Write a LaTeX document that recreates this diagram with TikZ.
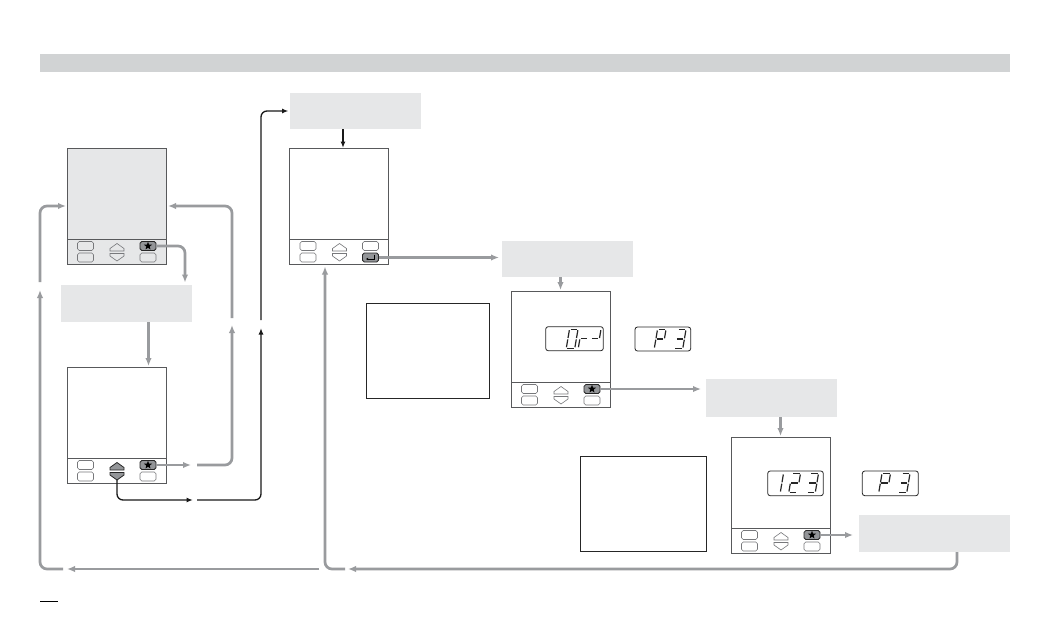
\documentclass[tikz,border=0pt]{standalone}
\usetikzlibrary{arrows.meta,shapes.geometric}
\definecolor{hdr}{HTML}{D1D3D4}
\definecolor{boxgray}{HTML}{E6E7E8}
\definecolor{agray}{HTML}{999B9E}
\definecolor{pborder}{HTML}{58595B}
\definecolor{bborder}{HTML}{77787B}
\definecolor{hotfill}{HTML}{939598}
\tikzset{
  panel/.style={draw=pborder, line width=0.8pt, minimum width=99pt, minimum height=116pt, anchor=north west, inner sep=0pt, outer sep=0pt},
  pline/.style={draw=pborder, line width=0.8pt},
  btn/.style={draw=bborder, line width=0.6pt, rounded corners=1.8pt, minimum width=16pt, minimum height=9pt, anchor=north west, inner sep=0pt, outer sep=0pt},
  hot/.style={fill=hotfill, draw=black!85, line width=0.8pt},
  udplain/.style={draw=bborder, line width=0.6pt},
  udhot/.style={draw=black!85, fill=hotfill, line width=0.8pt},
  starmark/.style={star, star points=5, star point ratio=2.4, fill=black, inner sep=0pt, minimum size=8.5pt},
  gbox/.style={fill=boxgray, anchor=north west, inner sep=0pt, outer sep=0pt},
  wbox/.style={draw=black!85, line width=0.9pt, anchor=north west, inner sep=0pt, outer sep=0pt},
  lcd/.style={draw=black!85, line width=0.8pt, rounded corners=2.5pt, anchor=north west, inner sep=0pt, outer sep=0pt},
  seg/.style={draw=black!85, line width=1.2pt},
  garrow/.style={draw=agray, line width=2.7pt, rounded corners=7pt, -{Latex[length=8pt,width=6.5pt]}},
  barrow/.style={draw=black!90, line width=1.3pt, rounded corners=6pt, -{Latex[length=6.5pt,width=5pt]}},
}
% seven-segment digit: x, y (top-left), list of segments
\newcommand\sdigit[3]{%
  \begin{scope}[shift={(#1,#2)},xslant=0.17]
    \coordinate (sa1) at (1,0);   \coordinate (sa2) at (7.5,0);
    \coordinate (sb1) at (8.5,1);   \coordinate (sb2) at (8.5,8.8);
    \coordinate (sc1) at (8.5,10.2);\coordinate (sc2) at (8.5,18);
    \coordinate (sd1) at (1,19);  \coordinate (sd2) at (7.5,19);
    \coordinate (se1) at (0,10.2);\coordinate (se2) at (0,18);
    \coordinate (sf1) at (0,1);   \coordinate (sf2) at (0,8.8);
    \coordinate (sg1) at (1,9.5); \coordinate (sg2) at (7.5,9.5);
    \foreach \sgm in {#3}{\draw[seg] (s\sgm1) -- (s\sgm2);}
  \end{scope}}
% device panel: name, x, y, panel opts, up/down style, r1 style, r2 style
\newcommand\devpanel[7]{%
  \node[panel,#4] (#1) at (#2,#3) {};
  \draw[pline] (#2,#3+91) -- (#2+99,#3+91);
  \node[btn] (#1-l1) at (#2+10.5,#3+93.5) {};
  \node[btn] (#1-l2) at (#2+10.5,#3+105) {};
  \node[btn,#6] (#1-r1) at (#2+73,#3+93.5) {};
  \node[btn,#7] (#1-r2) at (#2+73,#3+105) {};
  \draw[#5] (#2+50,#3+95.5) -- (#2+57,#3+100.5) -- (#2+57,#3+103) -- (#2+43,#3+103) -- (#2+43,#3+100.5) -- cycle;
  \draw[#5] (#2+43,#3+105.5) -- (#2+57,#3+105.5) -- (#2+57,#3+108) -- (#2+50,#3+113) -- (#2+43,#3+108) -- cycle;
  \coordinate (#1-ud) at (#2+50,#3+113);
}
\begin{document}
\begin{tikzpicture}[x=1pt,y=-1pt]
\useasboundingbox[fill=white] (0,0) rectangle (1048,624);
% header band
\node[gbox, fill=hdr, minimum width=970pt, minimum height=18pt] (hdr) at (40,54) {};
% grey text boxes
\node[gbox, minimum width=131pt, minimum height=36pt] (boxA) at (290,93) {};
\node[gbox, minimum width=131pt, minimum height=37pt] (boxB) at (61,285) {};
\node[gbox, minimum width=131pt, minimum height=36pt] (boxC) at (502,241) {};
\node[gbox, minimum width=131pt, minimum height=38pt] (boxD) at (706,379) {};
\node[gbox, minimum width=151pt, minimum height=37pt] (boxE) at (859,515) {};
% white note boxes
\node[wbox, minimum width=123pt, minimum height=95pt] (note1) at (366,303) {};
\node[wbox, minimum width=126pt, minimum height=95pt] (note2) at (580,456) {};
% panels
\devpanel{p1}{67}{148}{fill=boxgray}{udplain}{hot}{}
\devpanel{p2}{289.5}{148}{}{udplain}{}{hot}
\devpanel{p3}{67}{367}{}{udhot}{hot}{}
\devpanel{p4}{511}{291}{}{udplain}{hot}{}
\devpanel{p5}{731}{437}{}{udplain}{hot}{}
% button symbols
\node[starmark] (p1-st) at (p1-r1) {};
\node[starmark] (p3-st) at (p3-r1) {};
\node[starmark] (p4-st) at (p4-r1) {};
\node[starmark] (p5-st) at (p5-r1) {};
\draw[black, line width=0.8pt, -{Latex[length=2.2pt,width=3pt]}] ([xshift=3.5pt,yshift=2.8pt]p2-r2.center) |- ([xshift=-4.5pt,yshift=-1.5pt]p2-r2.center);
% LCD displays
\node[lcd, minimum width=57.6pt, minimum height=24pt] (lcd1) at (545.7,326.7) {};
\node[lcd, minimum width=55.7pt, minimum height=24pt] (lcd2) at (635,327) {};
\node[lcd, minimum width=55.6pt, minimum height=24.7pt] (lcd3) at (767.7,471) {};
\node[lcd, minimum width=56pt, minimum height=24.7pt] (lcd4) at (862.3,471) {};
\sdigit{569.5}{329.2}{a,b,c,d,e,f}
\sdigit{581.5}{329.2}{e,g}
\sdigit{592.5}{329.2}{b,g}
\sdigit{657.5}{329.5}{a,b,e,f,g}
\sdigit{677.5}{329.5}{a,b,c,d,g}
\sdigit{775}{473.5}{b,c}
\sdigit{792}{473.5}{a,b,g,e,d}
\sdigit{810}{473.5}{a,b,c,d,g}
\sdigit{882}{473.5}{a,b,e,f,g}
\sdigit{901.5}{473.5}{a,b,c,d,g}
% ---- grey connectors ----
\coordinate (k1) at (185,282.5);
\draw[garrow] (p1-r1.east) -| (k1);
\coordinate (k2) at ([xshift=22pt]boxB.south);
\draw[garrow, shorten >=1pt] (k2) -- (k2 |- p3.north);
\coordinate (m1) at ([xshift=35pt]p3-r1.east);
\draw[garrow] (p3-r1.east) -- (m1);
\coordinate (m2) at ([xshift=6pt]m1);
\coordinate (m3) at (232,325);
\draw[garrow] (m2) -| (m3);
\coordinate (m4) at (232,318);
\draw[garrow, shorten >=2pt] (m4) |- (p1.east);
\draw[garrow, shorten >=3pt] (p2-r2.east) -- (p2-r2.east -| boxC.west);
\draw[garrow, shorten >=1pt] (p4.north |- boxC.south) -- (p4.north);
\draw[garrow, shorten >=5pt] (p4-r1.east) -- (p4-r1.east -| boxD.west);
\draw[garrow, shorten >=1pt] (p5.north |- boxD.south) -- (p5.north);
\draw[garrow, shorten >=6pt] (p5-r1.east) -- (p5-r1.east -| boxE.west);
\coordinate (n1) at (348,569);
\draw[garrow] ([xshift=22.5pt]boxE.south) |- (n1);
\coordinate (n2) at (345,569);
\coordinate (n3) at (325,266.5);
\draw[garrow] (n2) -| (n3);
\coordinate (n4) at (319,569);
\coordinate (n5) at (67,569);
\draw[garrow] (n4) -- (n5);
\coordinate (n6) at (63,569);
\coordinate (n7) at (40,290);
\draw[garrow] (n6) -| (n7);
\coordinate (n8) at (40,282);
\draw[garrow, shorten >=1pt] (n8) |- (p1.west);
% ---- black connectors ----
\coordinate (q1) at (193,500);
\draw[barrow] (p3-ud) |- (q1);
\coordinate (q2) at (197,500);
\coordinate (q3) at (261,328);
\draw[barrow] (q2) -| (q3);
\coordinate (q4) at (261,320);
\draw[barrow, shorten >=1.5pt] (q4) |- (boxA.west);
\coordinate (r1) at ([xshift=4pt]p2.north);
\draw[barrow] (r1 |- boxA.south) -- (r1);
% footer mark
\coordinate (f1) at (40,601);
\coordinate (f2) at (58,601);
\draw[black, line width=1pt] (f1) -- (f2);
\end{tikzpicture}
\end{document}
